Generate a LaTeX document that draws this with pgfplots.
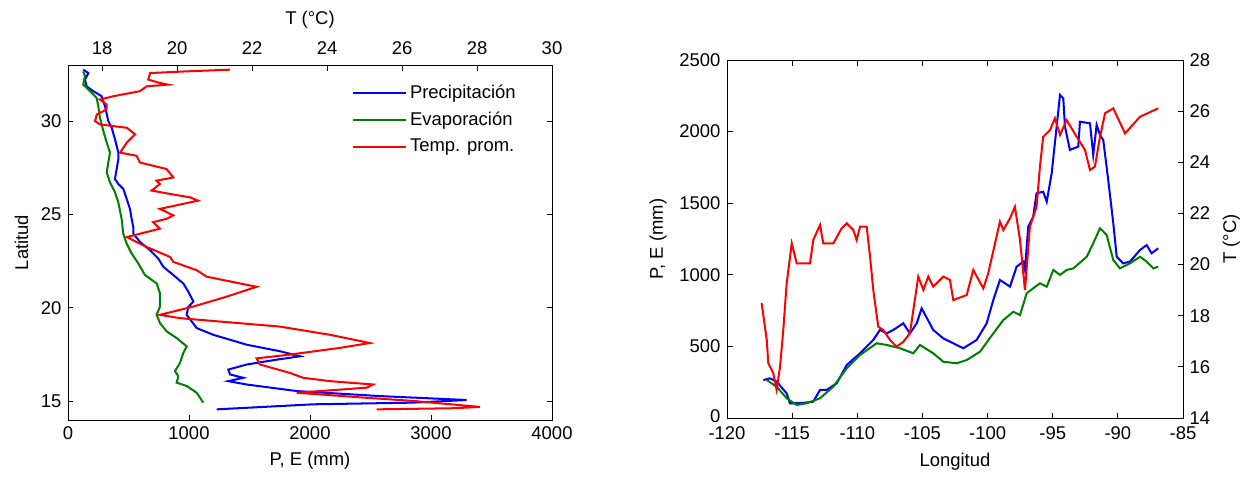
\documentclass[border=0pt]{standalone}
\usepackage{pgfplots}
\pgfplotsset{compat=1.18}
\usepackage{fontspec}
\setmainfont{Liberation Sans}
\definecolor{mblue}{RGB}{0,0,255}
\definecolor{mgreen}{RGB}{0,128,0}
\definecolor{mred}{RGB}{255,0,0}
\begin{document}
\fontsize{10.5}{12}\selectfont
\begin{tikzpicture}
\useasboundingbox (0,0) rectangle (249.6mm,95.4mm);
\pgfplotsset{
  every axis/.append style={
    scale only axis,
    tick align=inside,
    major tick length=1.1mm,
    /pgf/number format/assume math mode=true,
    /pgf/number format/1000 sep={},
    tick label style={font=\fontsize{10.5}{12}\selectfont},
    label style={font=\fontsize{10.5}{12}\selectfont},
    axis line style={line width=0.5pt},
    every tick/.style={black,line width=0.5pt},
  },
  dat/.style={line width=1.15pt},
}
% ---------------- Left: P,E vs latitude ----------------
\begin{axis}[at={(13.6mm,11.4mm)}, anchor=south west,
  width=96.8mm, height=71mm,
  xmin=0, xmax=4000, ymin=14, ymax=33,
  xtick={0,1000,2000,3000,4000}, ytick={15,20,25,30},
  xtick pos=left, ytick pos=both, yticklabel pos=left,
  xlabel={P, E (mm)}, ylabel={Latitud},
  legend cell align=left,
  legend style={draw=none, fill=none, at={(0.585,0.955)}, anchor=north west,
    font=\fontsize{10.5}{12}\selectfont, row sep=0.75mm, inner sep=0pt},
  legend image code/.code={\draw[#1] (0mm,0mm) -- (10.6mm,0mm);},
]
\addplot[mblue, dat] table {
126 32.75
168 32.57
140 32.22
154 31.86
209 31.60
278 31.33
306 30.80
333 30.00
361 29.64
388 29.03
416 28.31
416 27.96
402 27.43
388 26.90
416 26.63
457 26.37
485 25.84
512 25.30
526 24.77
540 24.30
540 23.97
595 23.53
678 23.09
746 22.64
788 22.20
870 21.76
953 21.31
994 20.87
1036 20.34
994 20.05
981 19.63
1064 18.92
1201 18.56
1477 18.03
1752 17.68
1917 17.41
1725 17.23
1477 16.97
1325 16.70
1339 16.44
1449 16.26
1325 16.08
1477 15.90
1890 15.55
2579 15.28
3295 15.07
2854 14.93
2027 14.84
1229 14.57
};
\addlegendentry{Precipitación}
\addplot[mgreen, dat] table {
126 32.66
140 32.40
126 31.95
182 31.60
237 31.24
250 30.80
264 30.18
292 29.47
320 28.85
347 28.31
333 27.78
320 27.25
347 26.72
388 26.19
416 25.65
443 24.77
457 23.97
485 23.44
526 22.91
581 22.38
636 21.76
733 21.31
760 20.78
760 20.07
733 19.63
760 19.19
816 18.74
898 18.39
981 17.94
953 17.59
926 17.06
884 16.61
912 16.35
898 16.00
981 15.82
1063 15.46
1118 14.93
};
\addlegendentry{Evaporación}
\addlegendimage{mred, dat}
\addlegendentry{Temp. prom.}
\end{axis}
\begin{axis}[at={(13.6mm,11.4mm)}, anchor=south west,
  width=96.8mm, height=71mm,
  xmin=17.09, xmax=30, ymin=14, ymax=33,
  xtick={18,20,22,24,26,28,30}, ytick=\empty,
  xtick pos=right, xticklabel pos=right,
  xticklabel style={yshift=0.8mm},
  xlabel={T (°C)},
]
\addplot[mred, dat] table {
21.41 32.75
20.26 32.66
19.28 32.57
19.23 32.22
19.54 32.04
19.76 31.95
19.19 31.86
19.01 31.60
18.30 31.33
17.94 31.15
18.12 30.89
18.12 30.62
17.86 30.36
17.81 30.00
17.94 29.82
18.66 29.64
18.88 29.29
18.66 28.85
18.48 28.31
18.92 28.14
19.01 27.78
19.72 27.43
19.90 26.98
19.45 26.81
19.54 26.63
19.32 26.28
19.81 26.10
20.34 25.92
20.56 25.74
19.54 25.30
19.90 24.95
19.72 24.77
19.36 24.59
19.54 24.24
19.01 23.97
18.66 23.79
19.19 23.26
19.81 22.73
19.90 22.46
20.52 22.02
20.79 21.67
22.12 21.13
21.32 20.60
20.43 20.07
19.54 19.63
20.08 19.45
22.74 19.00
24.08 18.56
25.14 18.12
24.34 17.86
23.01 17.50
22.12 17.30
22.21 16.97
23.01 16.52
23.36 16.26
24.08 16.08
25.23 15.90
25.06 15.73
23.19 15.46
24.97 15.20
26.30 15.02
28.08 14.70
27.37 14.63
25.32 14.57
};
\end{axis}
% ---------------- Right: vs longitude ----------------
\begin{axis}[at={(145.4mm,11.8mm)}, anchor=south west,
  width=91.2mm, height=71.6mm,
  xmin=-120, xmax=-85, ymin=0, ymax=2500,
  xtick={-120,-115,-110,-105,-100,-95,-90,-85},
  xticklabels={-120,-115,-110,-105,-100,-95,-90,-85},
  ytick={0,500,1000,1500,2000,2500},
  yticklabels={\raisebox{0.9mm}{0},500,1000,1500,2000,2500},
  xtick pos=both, xticklabel pos=left, ytick pos=left,
  xticklabel style={yshift=-0.5mm},
  xlabel={Longitud}, ylabel={P, E (mm)},
]
\addplot[mblue, dat] table {
-117.21 265
-116.70 277
-116.19 254
-115.42 172
-115.17 103
-114.40 103
-113.38 114
-112.86 196
-112.35 196
-111.58 242
-110.81 370
-109.79 452
-108.77 545
-108.26 615
-107.74 591
-107.24 615
-106.47 661
-105.96 591
-105.44 661
-105.06 766
-104.17 615
-103.40 556
-102.63 521
-101.86 487
-100.84 545
-100.07 661
-99.56 824
-99.05 964
-98.28 917
-97.77 1057
-97.26 1092
-97.13 1034
-96.88 1336
-96.50 1406
-96.24 1569
-95.73 1580
-95.46 1510
-95.08 1709
-94.70 2034
-94.44 2256
-94.19 2232
-94.06 2034
-93.68 1872
-93.04 1895
-92.91 2069
-92.14 2058
-91.89 1837
-91.63 2046
-91.37 1976
-91.12 1941
-90.74 1662
-90.35 1360
-90.09 1126
-89.59 1080
-89.07 1092
-88.30 1173
-87.79 1208
-87.41 1150
-86.90 1185
};
\addplot[mgreen, dat] table {
-116.95 265
-116.19 219
-115.42 138
-114.65 91
-113.88 103
-112.86 138
-111.84 219
-110.81 347
-109.79 440
-108.51 522
-107.74 510
-106.72 487
-105.70 452
-105.19 510
-104.17 452
-103.40 393
-102.37 382
-101.60 405
-100.58 463
-99.56 591
-98.79 684
-98.03 742
-97.51 719
-97.00 871
-95.98 941
-95.46 917
-94.95 1034
-94.44 999
-93.93 1034
-93.42 1045
-92.39 1126
-91.89 1220
-91.37 1325
-90.86 1278
-90.35 1103
-89.84 1045
-89.07 1080
-88.30 1126
-87.79 1092
-87.28 1045
-86.90 1057
};
\end{axis}
\begin{axis}[at={(145.4mm,11.8mm)}, anchor=south west,
  width=91.2mm, height=71.6mm,
  xmin=-120, xmax=-85, ymin=14, ymax=28,
  xtick=\empty, ytick={14,16,18,20,22,24,26,28},
  ytick pos=right, yticklabel pos=right,
  ylabel={T (°C)},
]
\addplot[mred, dat] table {
-117.34 18.49
-116.95 17.05
-116.83 16.14
-116.45 15.75
-116.19 15.10
-115.93 16.00
-115.68 17.44
-115.42 19.27
-115.03 20.83
-114.65 20.05
-113.63 20.05
-113.38 20.96
-112.86 21.55
-112.61 20.83
-111.84 20.83
-111.20 21.42
-110.81 21.61
-110.30 21.35
-110.05 20.96
-109.79 21.48
-109.28 21.48
-109.02 20.31
-108.77 19.00
-108.39 17.57
-108.00 17.44
-107.49 17.05
-106.98 16.79
-106.47 16.98
-105.96 17.31
-105.32 19.53
-104.93 19.01
-104.55 19.53
-104.17 19.14
-103.40 19.53
-102.89 19.40
-102.63 18.61
-101.60 18.81
-101.10 19.79
-100.33 19.07
-99.95 19.66
-99.05 21.68
-98.79 21.35
-98.28 21.81
-97.90 22.26
-97.51 20.96
-97.13 19.00
-96.75 21.48
-96.24 22.26
-95.98 23.83
-95.73 25.00
-95.21 25.26
-94.83 25.72
-94.44 25.07
-93.93 25.65
-93.16 25.00
-92.52 24.48
-92.14 23.70
-91.76 23.83
-91.37 25.00
-90.98 25.92
-90.35 26.11
-89.45 25.13
-88.30 25.78
-86.90 26.11
};
\end{axis}
\end{tikzpicture}
\end{document}
